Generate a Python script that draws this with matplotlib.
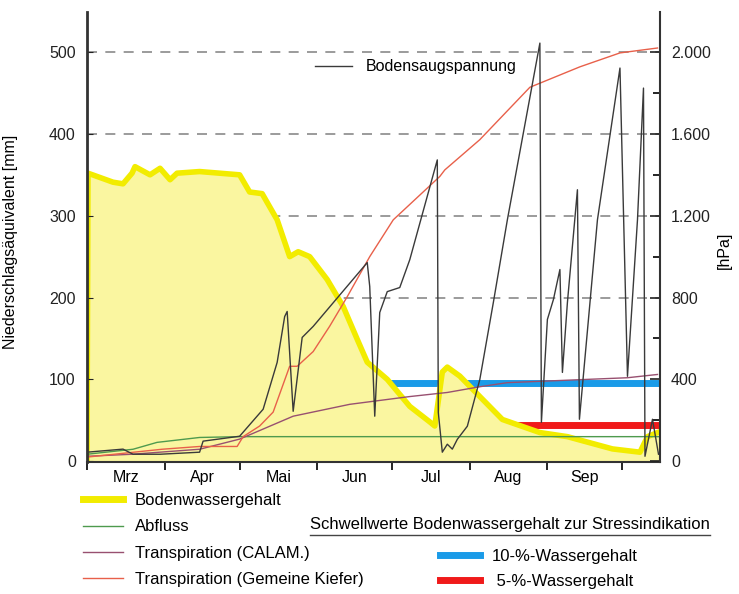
import matplotlib
matplotlib.use("Agg")
import matplotlib.pyplot as plt
from matplotlib.lines import Line2D
from matplotlib.ticker import FixedLocator, FuncFormatter

plt.rcParams['font.family'] = ['Liberation Sans', 'DejaVu Sans']
plt.rcParams['font.size'] = 11.5

# Tage ab 1. März
monat_grenzen = [0, 31, 61, 92, 122, 153, 184, 214]
monate = ['Mrz', 'Apr', 'Mai', 'Jun', 'Jul', 'Aug', 'Sep']

# Bodenwassergehalt [mm]
bw_tag = [0, 0.4, 10.4, 14.4, 18, 19.2, 25.2, 29.2, 33.2, 36, 45, 61, 65, 70, 76, 81,
          84.4, 89, 96, 102.4, 108, 112, 120, 129, 137, 139, 142, 144, 149, 157,
          166, 181, 192, 210, 221, 224, 228, 229]
bw_wert = [0, 352, 341, 339, 352, 360, 350, 358, 344, 352, 354, 350, 329, 327, 295, 250,
           256, 250, 222, 189, 149, 121, 100, 67, 48, 43, 109, 115, 104, 79,
           51, 35, 30, 15, 11, 30, 35, 36]

# Bodensaugspannung [hPa]
bs_tag = [0, 14.4, 18.4, 29.2, 45, 46.4, 61, 70.4, 76, 79, 80, 82.4, 86, 90.4, 112,
          113, 115, 117, 120, 125, 129, 140, 140.4, 142, 144, 146, 148, 152, 157,
          162.4, 168, 181, 181.6, 184, 186.4, 189, 190, 192, 196, 196.8, 204, 213,
          216, 220, 222.4, 223, 226, 228.4]
bs_wert = [44, 59, 34, 34, 44, 98, 122, 254, 483, 707, 732, 244, 605, 659, 971,
           854, 220, 727, 829, 849, 985, 1473, 239, 44, 83, 59, 107, 171, 400,
           776, 1180, 2044, 190, 693, 790, 937, 434, 776, 1327, 205, 1180, 1922,
           415, 1180, 1824, 24, 205, 34]

# Abfluss [mm]
ab_tag = [0, 18.4, 28, 45, 61, 229]
ab_wert = [8.5, 14.6, 23, 29, 30, 30]

# Transpiration CALAM. [mm]
tc_tag = [0, 18, 45, 61, 82.4, 105, 129, 144, 157, 168, 216, 228]
tc_wert = [6, 8.5, 14.6, 27, 55, 69.5, 79, 84, 91, 96, 102, 106]

# Transpiration Gemeine Kiefer [mm]
tk_tag = [0, 30, 45, 60, 62.4, 69, 74.4, 81, 84, 90.4, 97, 104, 113, 122.4, 141,
          143, 157, 177, 197, 213, 228]
tk_wert = [5, 14.6, 18, 18, 30, 43, 60, 116, 116, 134, 165, 201, 250, 295, 348,
           356, 393, 457, 482, 499, 505]

# Schwellwerte
schwelle_tage = [117, 229]
schwelle_10 = 95
schwelle_5 = 44

fig = plt.figure(figsize=(7.39, 5.94), dpi=100)
ax = fig.add_axes([0.1177, 0.2222, 0.7754, 0.7576])

ax.plot(schwelle_tage, [schwelle_10] * 2, color='#1a9be8', lw=5, zorder=0.8, solid_capstyle='butt')
ax.plot(schwelle_tage, [schwelle_5] * 2, color='#f01a1a', lw=5, zorder=0.8, solid_capstyle='butt')
ax.fill_between(bw_tag, bw_wert, 0, color='#faf6a0', lw=0, zorder=1)
ax.plot(bw_tag, bw_wert, color='#f2ec00', lw=4, zorder=1.5)
ax.plot(ab_tag, ab_wert, color='#4e9a4e', lw=1, zorder=2)
ax.plot(tc_tag, tc_wert, color='#985070', lw=1, zorder=2)
ax.plot(tk_tag, tk_wert, color='#e8604a', lw=1, zorder=2)

for v in [200, 300, 400, 500]:
    ax.axhline(v, color='#8a8a8a', lw=1.2, ls=(0, (6, 5)), zorder=0.5)

ax.set_xlim(0, 229)
ax.set_ylim(-1, 549)
ax.set_yticks([0, 100, 200, 300, 400, 500])
ax.tick_params(axis='y', direction='in', length=4, pad=8, colors='#222222')
ax.xaxis.set_major_locator(FixedLocator(monat_grenzen))
ax.xaxis.set_major_formatter(FuncFormatter(lambda v, p: ''))
mitten = [(monat_grenzen[i] + monat_grenzen[i + 1]) / 2 for i in range(len(monate))]
ax.xaxis.set_minor_locator(FixedLocator(mitten))
ax.set_xticklabels(monate, minor=True)
ax.tick_params(axis='x', which='major', direction='out', length=6, width=1.2)
ax.tick_params(axis='x', which='minor', length=0, pad=6)
ax.set_ylabel('Niederschlagsäquivalent [mm]')
ax.yaxis.set_label_coords(-0.12, 0.49)
ax.spines['top'].set_visible(False)
ax.spines['right'].set_visible(False)
ax.spines['left'].set_linewidth(2)
ax.spines['left'].set_color('#333333')
ax.spines['bottom'].set_linewidth(1.5)
ax.spines['bottom'].set_color('#333333')

ax2 = ax.twinx()
ax2.plot(bs_tag, bs_wert, color='#3a3a3a', lw=1, label='Bodensaugspannung')
ax2.set_ylim(-4, 2196)
ax2.set_yticks([0, 400, 800, 1200, 1600, 2000])
ax2.set_yticks([200, 600, 1000, 1400, 1800], minor=True)
ax2.yaxis.set_major_formatter(FuncFormatter(lambda v, p: f'{int(v):,}'.replace(',', '.')))
ax2.tick_params(axis='y', which='major', direction='in', length=7, width=1.2, pad=8, colors='#222222')
ax2.tick_params(axis='y', which='minor', direction='in', length=5, width=1.2)
ax2.set_ylabel('[hPa]')
ax2.yaxis.set_label_coords(1.10, 0.47)
for s in ['top', 'left', 'bottom']:
    ax2.spines[s].set_visible(False)
ax2.spines['right'].set_linewidth(1.5)
ax2.spines['right'].set_color('#333333')
ax2.legend(loc='center left', bbox_to_anchor=(0.398, 0.878), frameon=False,
           borderpad=0, borderaxespad=0, handlelength=2.3, handletextpad=0.9)

# Legende unten
h_links = [Line2D([], [], color='#f2ec00', lw=5),
           Line2D([], [], color='#4e9a4e', lw=1),
           Line2D([], [], color='#985070', lw=1),
           Line2D([], [], color='#e8604a', lw=1)]
l_links = ['Bodenwassergehalt', 'Abfluss', 'Transpiration (CALAM.)',
           'Transpiration (Gemeine Kiefer)']
fig.legend(h_links, l_links, loc='upper left', bbox_to_anchor=(0.1123, 0.170),
           frameon=False, borderpad=0, borderaxespad=0, handlelength=2.4,
           handletextpad=0.7, labelspacing=0.68, fontsize=12)

h_rechts = [Line2D([], [], color='#1a9be8', lw=5), Line2D([], [], color='#f01a1a', lw=5)]
l_rechts = ['10-%-Wassergehalt', ' 5-%-Wassergehalt']
fig.legend(h_rechts, l_rechts, loc='upper left', bbox_to_anchor=(0.5954, 0.076),
           frameon=False, borderpad=0, borderaxespad=0, handlelength=2.4,
           handletextpad=0.7, labelspacing=0.62, fontsize=12)

titel = fig.text(310 / 739, 1 - 525 / 594, 'Schwellwerte Bodenwassergehalt zur Stressindikation',
                 ha='left', va='center', fontsize=12)
fig.canvas.draw()
bb = titel.get_window_extent()
W, H = fig.get_size_inches() * fig.dpi
fig.add_artist(Line2D([bb.x0 / W, bb.x1 / W], [(bb.y0 - 2) / H] * 2,
                      transform=fig.transFigure, color='#444444', lw=1))

fig.savefig('out.png', dpi=100)
